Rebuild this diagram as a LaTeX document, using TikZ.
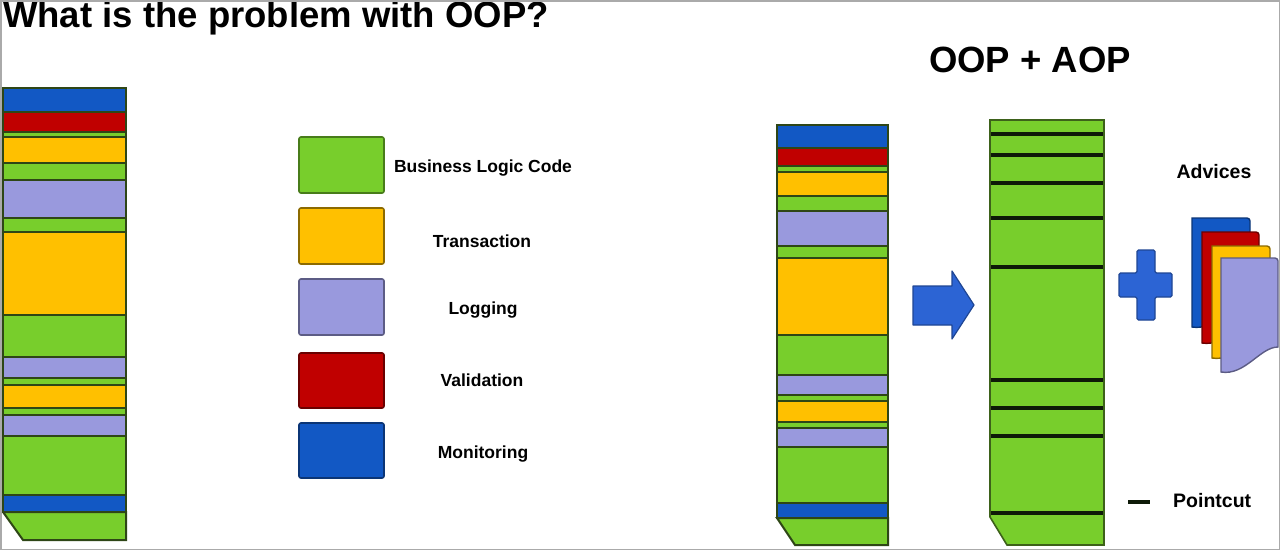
\documentclass[tikz,border=0pt]{standalone}
\usepackage{fontspec}
\setmainfont{Liberation Sans}
\definecolor{bgreen}{RGB}{120,206,44}
\definecolor{byellow}{RGB}{255,192,0}
\definecolor{blav}{RGB}{153,153,221}
\definecolor{bred}{RGB}{192,0,0}
\definecolor{bblue}{RGB}{18,88,196}
\definecolor{ablue}{RGB}{44,100,212}
\definecolor{sep}{RGB}{46,70,22}
\definecolor{pcut}{RGB}{14,26,8}
\definecolor{framegray}{RGB}{170,170,170}
\newcommand\colstrip[5]{\filldraw[fill=#5,draw=sep,line width=2] (#1,#3) rectangle (#2,#4);}
\newcommand\pcline[1]{\draw[pcut,line width=4.5] (990.8,#1) -- (1103.2,#1);}
\newcommand\advdoc[6]{\filldraw[fill=#5,draw=#6,line width=1.4] (#1,#4) -- (#1,#3) -- (#2-3,#3) to[out=0,in=90] (#2,#3+3) -- (#2,#4-25) .. controls (#2-18,#4-25) and (#1+24,#4+4) .. (#1,#4) -- cycle;}
\tikzset{
  lbl/.style={anchor=base,inner sep=0,font=\fontsize{17.5}{20}\selectfont\bfseries},
  bigtitle/.style={inner sep=0,font=\fontsize{36.5}{40}\selectfont\bfseries},
  small/.style={inner sep=0,font=\fontsize{19.5}{22}\selectfont\bfseries},
  legbox/.style={line width=1.6,rounded corners=2}
}
\begin{document}
\begin{tikzpicture}[x=1pt,y=-1pt]
\useasboundingbox (0,0) rectangle (1280,550);
\fill[white] (0,0) rectangle (1280,550);
% ---------- left column ----------
\colstrip{3}{126}{88}{112}{bblue}
\colstrip{3}{126}{112}{132}{bred}
\colstrip{3}{126}{132}{137}{bgreen}
\colstrip{3}{126}{137}{163}{byellow}
\colstrip{3}{126}{163}{180}{bgreen}
\colstrip{3}{126}{180}{218}{blav}
\colstrip{3}{126}{218}{232}{bgreen}
\colstrip{3}{126}{232}{315}{byellow}
\colstrip{3}{126}{315}{357}{bgreen}
\colstrip{3}{126}{357}{378}{blav}
\colstrip{3}{126}{378}{385}{bgreen}
\colstrip{3}{126}{385}{408}{byellow}
\colstrip{3}{126}{408}{415}{bgreen}
\colstrip{3}{126}{415}{436}{blav}
\colstrip{3}{126}{436}{495}{bgreen}
\colstrip{3}{126}{495}{512}{bblue}
\filldraw[fill=bgreen,draw=sep,line width=2] (3,512) -- (126,512) -- (126,540) -- (23,540) -- cycle;
% ---------- legend ----------
\filldraw[legbox,fill=bgreen,draw=bgreen!60!black] (299,137) rectangle (384,193);
\filldraw[legbox,fill=byellow,draw=byellow!55!black] (299,208) rectangle (384,264);
\filldraw[legbox,fill=blav,draw=blav!60!black] (299,279) rectangle (384,335);
\filldraw[legbox,fill=bred,draw=bred!55!black] (299,353) rectangle (384,408);
\filldraw[legbox,fill=bblue,draw=bblue!60!black] (299,423) rectangle (384,478);
\node[lbl] (lbiz) at (483,172) {Business Logic Code};
\node[lbl] (ltra) at (482,247) {Transaction};
\node[lbl] (llog) at (483,314) {Logging};
\node[lbl] (lval) at (482,386) {Validation};
\node[lbl] (lmon) at (483,458) {Monitoring};
% ---------- middle column ----------
\colstrip{777}{888}{125}{148}{bblue}
\colstrip{777}{888}{148}{166}{bred}
\colstrip{777}{888}{166}{172}{bgreen}
\colstrip{777}{888}{172}{196}{byellow}
\colstrip{777}{888}{196}{211}{bgreen}
\colstrip{777}{888}{211}{246}{blav}
\colstrip{777}{888}{246}{258}{bgreen}
\colstrip{777}{888}{258}{335}{byellow}
\colstrip{777}{888}{335}{375}{bgreen}
\colstrip{777}{888}{375}{395}{blav}
\colstrip{777}{888}{395}{401}{bgreen}
\colstrip{777}{888}{401}{422}{byellow}
\colstrip{777}{888}{422}{428}{bgreen}
\colstrip{777}{888}{428}{447}{blav}
\colstrip{777}{888}{447}{503}{bgreen}
\colstrip{777}{888}{503}{518}{bblue}
\filldraw[fill=bgreen,draw=sep,line width=2] (777,518) -- (888,518) -- (888,545) -- (795,545) -- cycle;
% ---------- arrow ----------
\filldraw[fill=ablue,draw=ablue!70!black,line width=1.2,line join=round] (913,286) -- (952,286) -- (952,271) -- (974,305) -- (952,339) -- (952,325) -- (913,325) -- cycle;
% ---------- right column ----------
\filldraw[fill=bgreen,draw=sep!80!bgreen,line width=1.6] (990,120) -- (1104,120) -- (1104,545) -- (1007,545) -- (990,517) -- cycle;
\pcline{134}
\pcline{155}
\pcline{183}
\pcline{218}
\pcline{267}
\pcline{380}
\pcline{408}
\pcline{436}
\pcline{513}
% ---------- plus ----------
\filldraw[fill=ablue,draw=ablue!70!black,line width=1.2,rounded corners=1.5] (1137,250) -- (1155,250) -- (1155,273) -- (1172,273) -- (1172,297) -- (1155,297) -- (1155,320) -- (1137,320) -- (1137,297) -- (1119,297) -- (1119,273) -- (1137,273) -- cycle;
% ---------- advices ----------
\advdoc{1192}{1250}{218}{327}{bblue}{bblue!60!black}
\advdoc{1202}{1259}{232}{343}{bred}{bred!55!black}
\advdoc{1212}{1270}{246}{358}{byellow}{byellow!55!black}
\advdoc{1221}{1278}{258}{372}{blav}{blav!60!black}
% ---------- texts ----------
\node[bigtitle,anchor=base west] (title) at (3,27) {What is the problem with OOP?};
\node[bigtitle,anchor=base] (oopaop) at (1030,72) {OOP + AOP};
\node[small,anchor=base] (adv) at (1214,178) {Advices};
\coordinate (pcA) at (1128,502);
\coordinate (pcB) at (1150,502);
\draw[pcut,line width=4] (pcA) -- (pcB);
\node[small,anchor=base west] (pcut) at (1173,507) {Pointcut};
% ---------- frame ----------
\draw[framegray,line width=1.5] (0.75,0.75) rectangle (1279.25,549.25);
\end{tikzpicture}
\end{document}
